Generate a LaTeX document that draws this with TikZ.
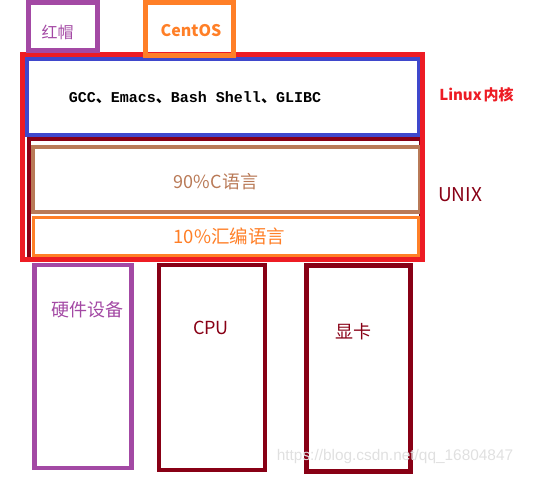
\documentclass[tikz,border=0pt]{standalone}
\usepackage{fontspec}
\newfontfamily\cjk{Noto Sans CJK SC}
\newfontfamily\monob{Liberation Mono}
\newfontfamily\webfont{Liberation Sans}
\newcommand{\dun}{{\cjk 、}}
\definecolor{hatpurple}{HTML}{A349A4}
\definecolor{osorange}{HTML}{FF7F27}
\definecolor{kernred}{HTML}{ED1C24}
\definecolor{unixred}{HTML}{880015}
\definecolor{toolblue}{HTML}{3F48CC}
\definecolor{cbrown}{HTML}{B97A57}
\tikzset{
    node style txt/.style={inner sep=0pt,font=\cjk\fontsize{18}{20}\selectfont},
    node style small/.style={inner sep=0pt,font=\cjk\bfseries\fontsize{15.5}{17}\selectfont},
    node style mono/.style={inner sep=0pt,font=\monob\bfseries\fontsize{15}{17}\selectfont},
}

\begin{document}
\begin{tikzpicture}[x=1pt,y=-1pt]
\useasboundingbox (0,0) rectangle (537,476);

\draw [unixred,line width=4pt] (29,139) rectangle (421,260);
\draw [cbrown,line width=4pt] (33,147) rectangle (420,212);
\draw [osorange,line width=3.5pt] (33.5,217.5) rectangle (418.5,255.5);
\draw [toolblue,line width=4pt] (26.5,59) rectangle (418.5,134.5);
\draw [kernred,line width=5pt] (22.5,54.5) rectangle (422.5,259.5);

\draw [hatpurple,line width=5pt] (28.5,2.5) rectangle (97.5,50.5);
\draw [osorange,line width=5pt] (145.5,2.5) rectangle (233.5,55.5);

\draw [hatpurple,line width=4.5pt] (34.5,265) rectangle (131.5,468);
\draw [unixred,line width=4.5pt] (159,265) rectangle (265,470);
\draw [unixred,line width=5pt] (306.5,265.5) rectangle (410.5,471.5);

\node [node style txt,text=hatpurple,font=\cjk\fontsize{16}{18}\selectfont] (hat) at (57.5,32.5) {红帽};
\node [node style small,text=osorange,font=\cjk\bfseries\fontsize{16}{18}\selectfont] (centos) at (191,31) {CentOS};
\node [node style mono] (tools) at (195,98) {GCC\dun Emacs\dun Bash Shell\dun GLIBC};
\node [node style small,text=kernred,font=\cjk\bfseries\fontsize{15}{17}\selectfont] (kernel) at (476.5,95) {Linux\kern2pt 内核};
\node [node style txt,text=unixred,font=\cjk\fontsize{19}{21}\selectfont] (unix) at (460,195) {UNIX};
\node [node style txt,text=cbrown] (clang) at (216,182) {90\%C语言};
\node [node style txt,text=osorange,font=\cjk\fontsize{18.5}{20}\selectfont] (asm) at (229.5,236) {10\%汇编语言};
\node [node style txt,text=hatpurple] (hw) at (87,310) {硬件设备};
\node [node style txt,text=unixred] (cpu) at (211,328) {CPU};
\node [node style txt,text=unixred] (gpu) at (353,332) {显卡};
\node [inner sep=0pt,text=black!12,font=\webfont\fontsize{15.4}{17}\selectfont] (mark) at (395,457) {https://blog.csdn.net/qq\_16804847};

\end{tikzpicture}
\end{document}
